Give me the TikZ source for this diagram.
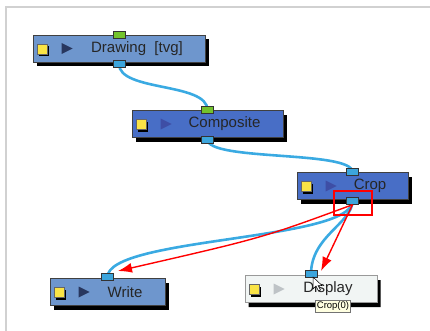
\documentclass[tikz,border=0pt]{standalone}
\usepackage{fontspec}
\setmainfont{Liberation Sans}
\usetikzlibrary{shadows,shapes.misc,arrows.meta,backgrounds}

\definecolor{nodeblue}{RGB}{110,150,205}
\definecolor{nodedeep}{RGB}{72,110,198}
\definecolor{nodepale}{RGB}{241,245,244}
\definecolor{cable}{RGB}{58,170,226}
\definecolor{portblue}{RGB}{60,165,220}
\definecolor{portgreen}{RGB}{115,195,45}
\definecolor{iconyellow}{RGB}{250,228,70}
\definecolor{playdark}{RGB}{40,55,95}
\definecolor{playblue}{RGB}{62,78,165}
\definecolor{playpale}{RGB}{190,195,198}
\definecolor{tipyellow}{RGB}{255,255,225}

\tikzset{
  module/.style={rectangle, draw=black!75, line width=0.8pt, minimum height=27pt, inner sep=0pt,
    drop shadow={shadow xshift=3.5pt, shadow yshift=-4.5pt, fill=black, opacity=1}},
  port/.style={rectangle, draw=black!80, line width=0.7pt, fill=portblue,
    minimum width=12pt, minimum height=7pt, inner sep=0pt},
  inport/.style={port, fill=portgreen},
  cableline/.style={cable, line width=2.6pt},
  redarrow/.style={red, line width=1.4pt, -{Latex[length=14pt,width=10pt]}},
  title/.style={font=\fontsize{15}{17}\selectfont, text=black!85},
}

\begin{document}
\begin{tikzpicture}[x=1pt,y=-1pt]
\useasboundingbox (0,0) rectangle (430,331);

% frame
\draw[black!18, line width=2pt] (6,331) -- (6,7) -- (430,7);

% modules
\node[module, fill=nodeblue, minimum width=172pt] (drawing) at (119,48.5) {};
\node[module, fill=nodedeep, minimum width=151pt] (composite) at (207.5,124) {};
\node[module, fill=nodedeep, minimum width=111pt] (crop) at (352.5,186) {};
\node[module, fill=nodeblue, minimum width=115pt] (write) at (107.5,292) {};
\node[module, chamfered rectangle, chamfered rectangle corners={north west,north east},
  chamfered rectangle xsep=5pt, draw=black!40, fill=nodepale, minimum width=132pt] (display) at (311,289) {};

% titles
\node[title] (drawing-t) at ([xshift=18pt]drawing.center) {Drawing~~[tvg]};
\node[title] (composite-t) at ([xshift=17pt]composite.center) {Composite};
\node[title] (crop-t) at ([xshift=17.5pt]crop.center) {Crop};
\node[title] (write-t) at ([xshift=17.5pt]write.center) {Write};
\node[title] (display-t) at ([xshift=17pt]display.center) {Display};

% icons
\foreach \n/\c in {drawing/playdark, composite/playblue, crop/playblue, write/playdark, display/playpale} {
  \begin{scope}[shift={(\n.west)}]
    \fill[black] (6,-2) rectangle (16.5,8);
    \filldraw[fill=iconyellow, draw=black!60, line width=0.5pt] (4.5,-4.5) rectangle (14.5,5.5);
    \fill[\c] (29,-5.5) -- (40,0) -- (29,5.5) -- cycle;
  \end{scope}
}

% ports
\node[inport] (drawing-in) at (drawing.north) {};
\node[port] (drawing-out) at ([yshift=-1.5pt]drawing.south) {};
\node[inport] (composite-in) at (composite.north) {};
\node[port] (composite-out) at ([yshift=-1.5pt]composite.south) {};
\node[port] (crop-in) at (crop.north) {};
\node[port] (crop-out) at ([yshift=-1pt]crop.south) {};
\node[port] (write-in) at ([yshift=1pt]write.north) {};
\node[port] (display-in) at ([yshift=1pt]display.north) {};

% cables
\begin{scope}[on background layer]
\draw[cableline] (drawing-out.center) .. controls +(0,28) and +(0,-28) .. (composite-in.center);
\draw[cableline] (composite-out.center) .. controls +(0,22) and +(0,-22) .. (crop-in.center);
\draw[cableline] (crop-out.center) .. controls +(0,40) and +(0,-40) .. (write-in.center);
\draw[cableline] (crop-out.center) .. controls +(0,22) and +(0,-38) .. (display-in.center);
\end{scope}

% selection and arrows
\node[draw=red, line width=1.3pt, minimum width=38pt, minimum height=24pt, inner sep=0pt] (sel) at (353,203) {};
\coordinate (wtip) at (118,271);
\coordinate (dtip) at (321,271);
\draw[redarrow] (crop-out.south) .. controls (262,238) .. (wtip);
\draw[redarrow] (crop-out.south) -- (dtip);

% tooltip and cursor
\node[draw=black!55, fill=tipyellow, font=\fontsize{9.5}{11}\selectfont, inner sep=1.5pt] (tip) at (333,306.5) {Crop(0)};
\filldraw[fill=white, draw=black, line width=0.5pt] (313,277) -- ++(0,12) -- ++(3,-3) -- ++(2.5,5)
  -- ++(2,-1) -- ++(-2.5,-4.5) -- ++(4,0) -- cycle;
\end{tikzpicture}
\end{document}
